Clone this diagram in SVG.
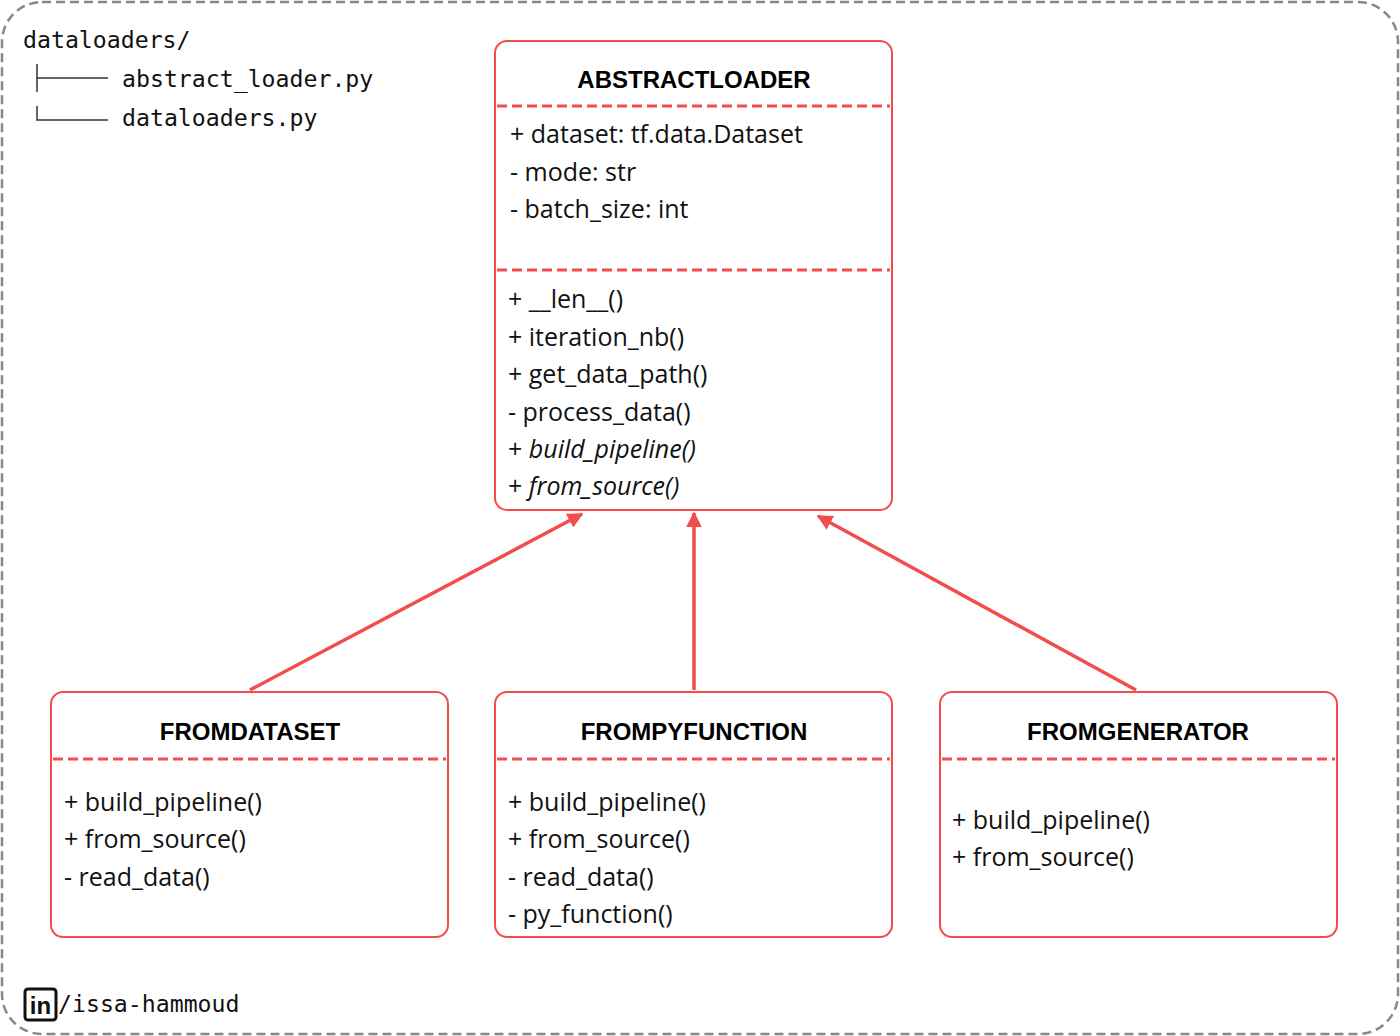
<svg xmlns="http://www.w3.org/2000/svg" width="1400" height="1036" viewBox="0 0 1400 1036">
<style>
.box{fill:#fff;stroke:#f24d4d;stroke-width:2}
.sep{stroke:#f24d4d;stroke-width:3;stroke-dasharray:10 5}
.t{font-family:"Liberation Sans",sans-serif;font-weight:bold;font-size:24px;text-anchor:middle;fill:#000}
.m{font-family:"Open Sans","Noto Sans",sans-serif;font-size:25px;fill:#111}
.mono{font-family:"DejaVu Sans Mono",monospace;font-size:23.2px;fill:#111}
.edge{stroke:#f24d4d;stroke-width:3.5;fill:none}
</style>
<defs>
<marker id="ah" viewBox="0 0 10 10" refX="9" refY="5" markerWidth="4.5" markerHeight="4.5" orient="auto"><path d="M0,0L10,5L0,10z" fill="#f24d4d"/></marker>
</defs>
<rect x="2" y="2" width="1396" height="1032" rx="40" fill="#fff" stroke="#888" stroke-width="2.5" stroke-dasharray="9 5"/>
<g id="tree">
<text class="mono" x="23" y="48">dataloaders/</text>
<path d="M37,64V92M37,78H108M37,106V120H108" stroke="#333" stroke-width="1.5" fill="none"/>
<text class="mono" x="122" y="87">abstract_loader.py</text>
<text class="mono" x="122" y="126">dataloaders.py</text>
</g>
<g id="edges">
<path class="edge" d="M250,690L582,514" marker-end="url(#ah)"/>
<path class="edge" d="M694,690V513" marker-end="url(#ah)"/>
<path class="edge" d="M1136,690L818,516" marker-end="url(#ah)"/>
</g>
<g id="AbstractLoader">
<rect class="box" x="495" y="41" width="397" height="469" rx="12"/>
<text class="t" x="694" y="88">ABSTRACTLOADER</text>
<line class="sep" x1="497" y1="106" x2="890" y2="106"/>
<text class="m" x="510" y="143">+ dataset: tf.data.Dataset</text>
<text class="m" x="510" y="181">- mode: str</text>
<text class="m" x="510" y="218">- batch_size: int</text>
<line class="sep" x1="497" y1="270" x2="890" y2="270"/>
<text class="m" x="508" y="308">+ __len__()</text>
<text class="m" x="508" y="346">+ iteration_nb()</text>
<text class="m" x="508" y="383">+ get_data_path()</text>
<text class="m" x="508" y="421">- process_data()</text>
<text class="m" x="508" y="458">+ <tspan font-style="italic">build_pipeline()</tspan></text>
<text class="m" x="508" y="495">+ <tspan font-style="italic">from_source()</tspan></text>
</g>
<g id="FromDataset">
<rect class="box" x="51" y="692" width="397" height="245" rx="12"/>
<text class="t" x="250" y="740">FROMDATASET</text>
<line class="sep" x1="53" y1="759" x2="446" y2="759"/>
<text class="m" x="64" y="811">+ build_pipeline()</text>
<text class="m" x="64" y="848">+ from_source()</text>
<text class="m" x="64" y="886">- read_data()</text>
</g>
<g id="FromPyFunction">
<rect class="box" x="495" y="692" width="397" height="245" rx="12"/>
<text class="t" x="694" y="740">FROMPYFUNCTION</text>
<line class="sep" x1="497" y1="759" x2="890" y2="759"/>
<text class="m" x="508" y="811">+ build_pipeline()</text>
<text class="m" x="508" y="848">+ from_source()</text>
<text class="m" x="508" y="886">- read_data()</text>
<text class="m" x="508" y="923">- py_function()</text>
</g>
<g id="FromGenerator">
<rect class="box" x="940" y="692" width="397" height="245" rx="12"/>
<text class="t" x="1138" y="740">FROMGENERATOR</text>
<line class="sep" x1="942" y1="759" x2="1335" y2="759"/>
<text class="m" x="952" y="829">+ build_pipeline()</text>
<text class="m" x="952" y="866">+ from_source()</text>
</g>
<g id="footer">
<rect x="25" y="989" width="31" height="31" rx="3" fill="none" stroke="#111" stroke-width="3"/>
<text x="40.5" y="1014" font-family="Liberation Sans,sans-serif" font-weight="bold" font-size="24" text-anchor="middle" fill="#111">in</text>
<text class="mono" x="58" y="1012">/issa-hammoud</text>
</g>
</svg>
